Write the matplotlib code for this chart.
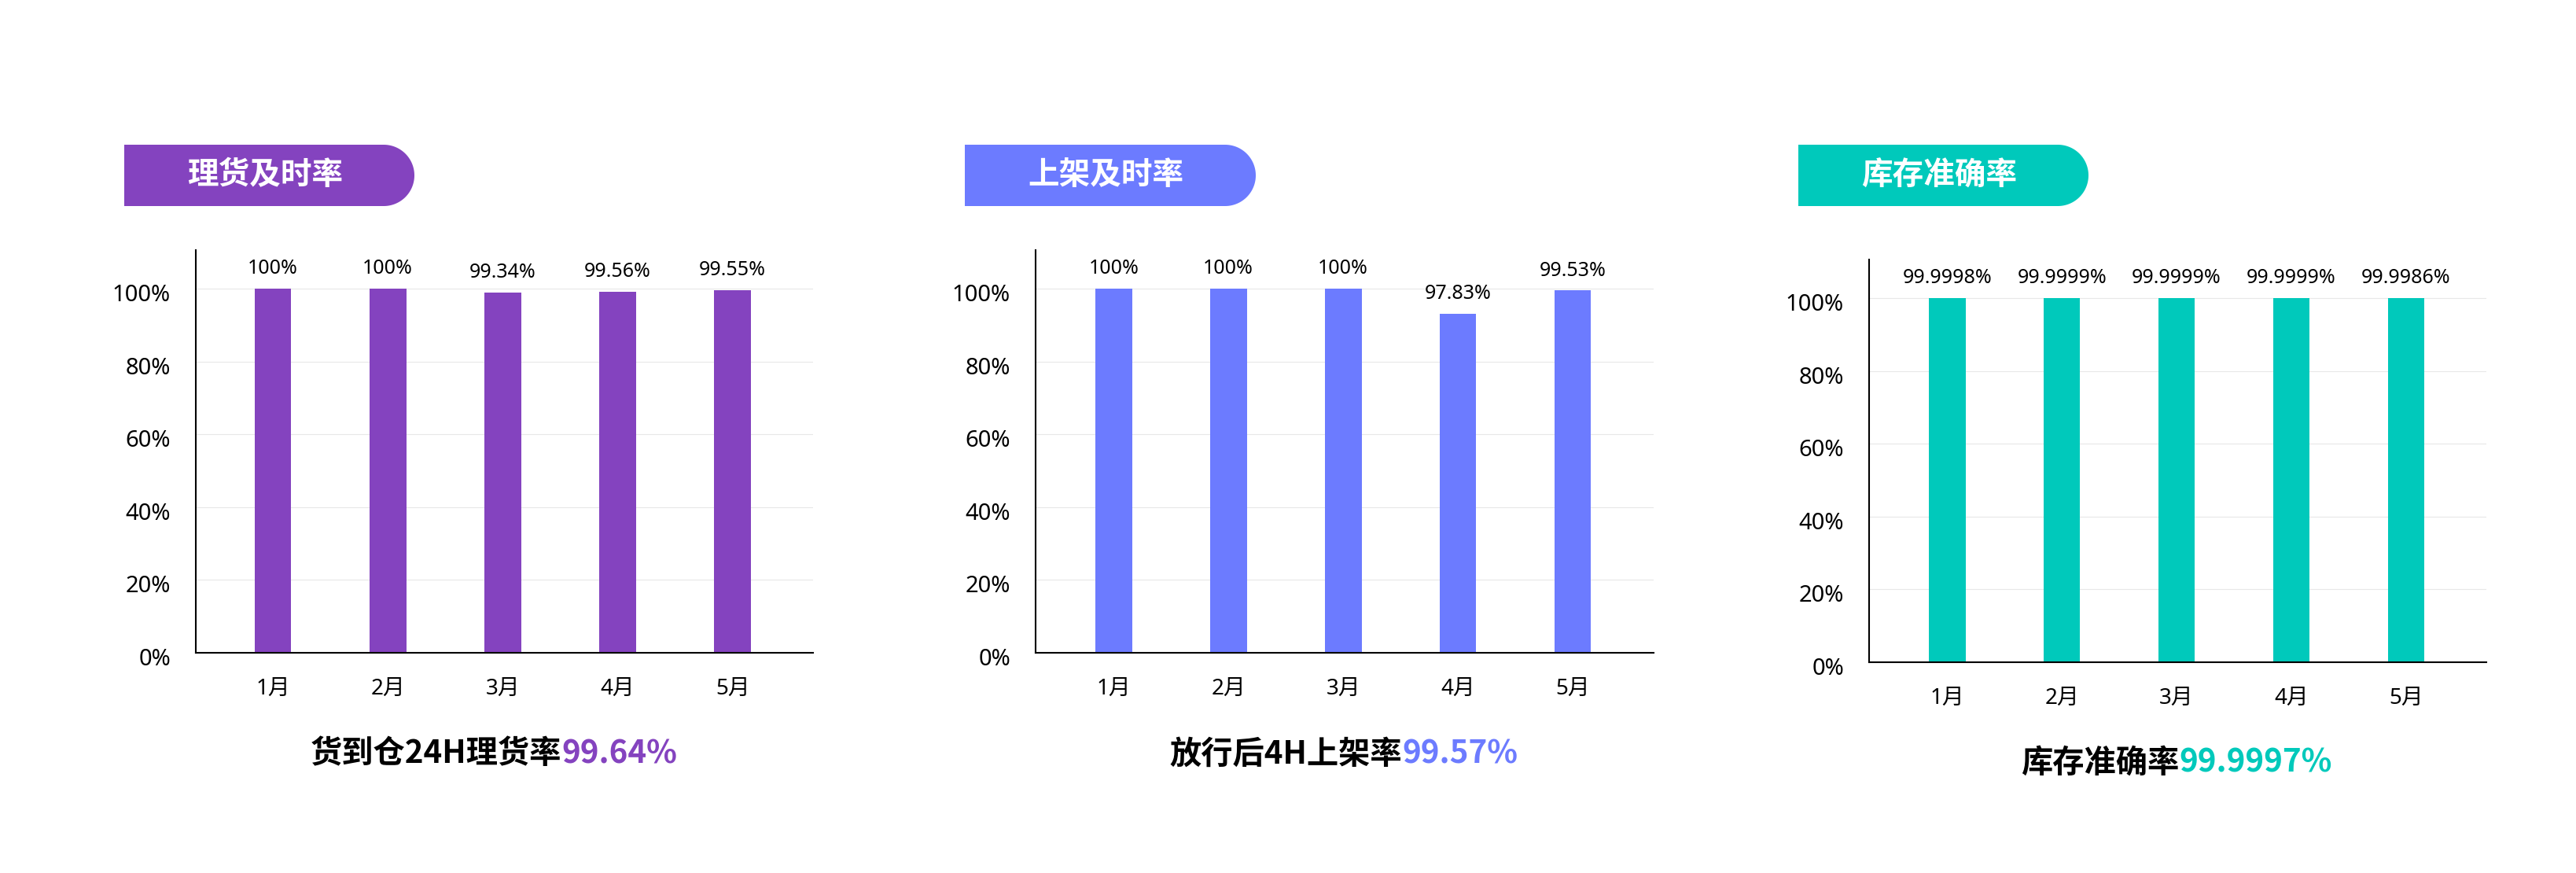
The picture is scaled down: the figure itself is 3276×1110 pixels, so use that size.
import numpy as np
import matplotlib
matplotlib.use('Agg')
import matplotlib.pyplot as plt
import matplotlib.transforms as mtransforms
from matplotlib.patches import Polygon
from matplotlib.offsetbox import TextArea, HPacker, AnnotationBbox

plt.rcParams['font.family'] = ['Noto Sans', 'Noto Sans CJK SC', 'DejaVu Sans']

# 数据
months = ['1月', '2月', '3月', '4月', '5月']
titles = ['理货及时率', '上架及时率', '库存准确率']
ytick_vals = [0, 20, 40, 60, 80, 100]
ytick_labels = ['0%', '20%', '40%', '60%', '80%', '100%']

pick_bars = [100, 100, 98.9, 99.1, 99.6]
pick_labels = ['100%', '100%', '99.34%', '99.56%', '99.55%']
shelf_bars = [100, 100, 100, 93.2, 99.5]
shelf_labels = ['100%', '100%', '100%', '97.83%', '99.53%']
stock_bars = [99.9998, 99.9999, 99.9999, 99.9999, 99.9986]
stock_labels = ['99.9998%', '99.9999%', '99.9999%', '99.9999%', '99.9986%']

summary_names = ['货到仓24H理货率', '放行后4H上架率', '库存准确率']
summary_values = ['99.64%', '99.57%', '99.9997%']

colors = ['#8443BF', '#6C7BFF', '#00C9BB']

# 布局（像素）
W, H = 3276, 1110
axes_px = [(249, 318, 1034, 830), (1317, 318, 2103, 830), (2377, 330, 3162, 842)]
xlims = [(-0.67, 4.70), (-0.68, 4.705), (-0.68, 4.70)]
badges_px = [(158, 184, 527, 262), (1227, 184, 1597, 262), (2287, 184, 2656, 262)]
summary_px = [(628, 959), (1709, 959), (2768, 970)]

fig = plt.figure(figsize=(W / 100, H / 100), dpi=100)

cjk_bold = ['Noto Sans CJK SC', 'DejaVu Sans']


def badge(l, t, r, b, color):
    rad = (b - t) / 2
    cx, cy = r - rad, (t + b) / 2
    ang = np.linspace(np.pi / 2, -np.pi / 2, 80)
    xs = np.concatenate([[l, cx], cx + rad * np.cos(ang), [l]])
    ys = np.concatenate([[t, t], cy - rad * np.sin(ang), [b]])
    pts = np.column_stack([xs / W, 1 - ys / H])
    fig.add_artist(Polygon(pts, closed=True, facecolor=color, edgecolor='none',
                           transform=fig.transFigure))


all_bars = [pick_bars, shelf_bars, stock_bars]
all_labels = [pick_labels, shelf_labels, stock_labels]

for i in range(3):
    l, t, r, b = axes_px[i]
    ax = fig.add_axes([l / W, 1 - b / H, (r - l) / W, (b - t) / H])
    x = np.arange(len(months))
    ax.bar(x, all_bars[i], width=0.32, color=colors[i], zorder=2)
    ax.set_xlim(*xlims[i])
    ax.set_ylim(0, 110.6)
    ax.set_xticks(x)
    ax.set_xticklabels(months, fontsize=20)
    ax.set_yticks(ytick_vals)
    ax.set_yticklabels(ytick_labels, fontsize=21)
    ax.grid(axis='y', color='#E8E8E8', linewidth=0.8, zorder=0)
    ax.set_axisbelow(True)
    for s in ['top', 'right']:
        ax.spines[s].set_visible(False)
    for s in ['left', 'bottom']:
        ax.spines[s].set_color('black')
        ax.spines[s].set_linewidth(1.5)
    ax.tick_params(axis='y', length=0, pad=23)
    ax.tick_params(axis='x', length=0, pad=23)
    off = mtransforms.ScaledTranslation(0, -5 / 100, fig.dpi_scale_trans)
    for lab in ax.get_yticklabels():
        lab.set_transform(lab.get_transform() + off)
    for xi, h, lab in zip(x, all_bars[i], all_labels[i]):
        ax.annotate(lab, (xi, h), xytext=(0, 13.5), textcoords='offset points',
                    ha='center', va='baseline', fontsize=18)

    # 标题徽章
    bl, bt, br, bb = badges_px[i]
    badge(bl, bt, br, bb, colors[i])
    fig.text((bl + 80) / W, 1 - (bt + bb) / 2 / H, titles[i], color='white',
             fontsize=28.5, fontweight='bold', family=cjk_bold,
             ha='left', va='center')

    # 底部汇总
    name = TextArea(summary_names[i], textprops=dict(color='black', fontsize=29,
                                                     fontweight='bold', family=cjk_bold))
    val = TextArea(summary_values[i], textprops=dict(color=colors[i], fontsize=29,
                                                     fontweight='bold', family=cjk_bold))
    pack = HPacker(children=[name, val], align='baseline', pad=0, sep=0)
    sx, sy = summary_px[i]
    ab = AnnotationBbox(pack, (sx / W, 1 - sy / H), xycoords='figure fraction',
                        frameon=False, box_alignment=(0.5, 0.5), pad=0)
    fig.add_artist(ab)

fig.savefig('out.png', dpi=100)
